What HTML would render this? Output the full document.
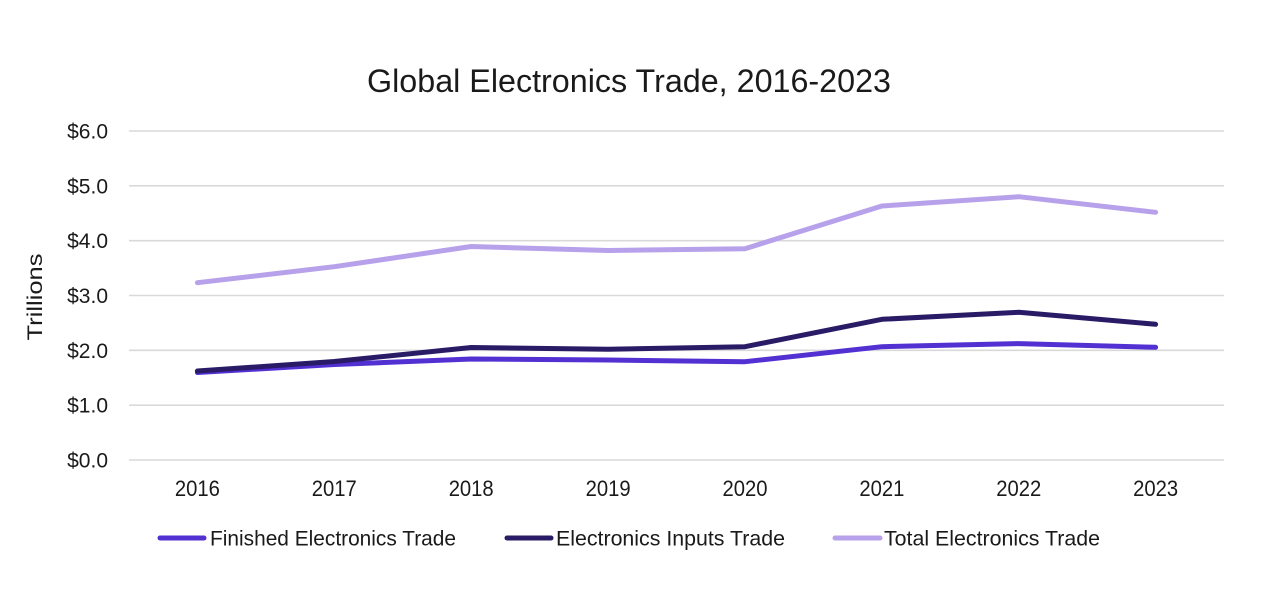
<!DOCTYPE html>
<html>
<head>
<meta charset="utf-8">
<style>
  html, body { margin: 0; padding: 0; background: #ffffff; }
  body { width: 1283px; height: 602px; overflow: hidden; }
  svg { display: block; }
  text { font-family: "Liberation Sans", "DejaVu Sans", sans-serif; fill: #1a1a1a; }
</style>
</head>
<body>
<svg width="1283" height="602" viewBox="0 0 1283 602" xmlns="http://www.w3.org/2000/svg">
  <rect x="0" y="0" width="1283" height="602" fill="#ffffff"/>

  <!-- Title -->
  <text x="367" y="92" font-size="32" textLength="524" lengthAdjust="spacingAndGlyphs">Global Electronics Trade, 2016-2023</text>

  <!-- Gridlines -->
  <g stroke="#d9d9d9" stroke-width="1.6">
    <line x1="129" y1="131" x2="1224" y2="131"/>
    <line x1="129" y1="185.8" x2="1224" y2="185.8"/>
    <line x1="129" y1="240.7" x2="1224" y2="240.7"/>
    <line x1="129" y1="295.5" x2="1224" y2="295.5"/>
    <line x1="129" y1="350.3" x2="1224" y2="350.3"/>
    <line x1="129" y1="405.2" x2="1224" y2="405.2"/>
    <line x1="129" y1="460" x2="1224" y2="460"/>
  </g>

  <!-- Y tick labels -->
  <g font-size="21" text-anchor="end">
    <text x="108" y="138.5">$6.0</text>
    <text x="108" y="193.3">$5.0</text>
    <text x="108" y="248.2">$4.0</text>
    <text x="108" y="303">$3.0</text>
    <text x="108" y="357.8">$2.0</text>
    <text x="108" y="412.7">$1.0</text>
    <text x="108" y="467.5">$0.0</text>
  </g>

  <!-- Y axis title -->
  <text transform="translate(42,297) rotate(-90)" font-size="21" text-anchor="middle" textLength="87" lengthAdjust="spacingAndGlyphs">Trillions</text>

  <!-- X labels -->
  <g font-size="22" text-anchor="middle">
    <text x="197.4" y="496" textLength="45" lengthAdjust="spacingAndGlyphs">2016</text>
    <text x="334.3" y="496" textLength="45" lengthAdjust="spacingAndGlyphs">2017</text>
    <text x="471.2" y="496" textLength="45" lengthAdjust="spacingAndGlyphs">2018</text>
    <text x="608.1" y="496" textLength="45" lengthAdjust="spacingAndGlyphs">2019</text>
    <text x="745" y="496" textLength="45" lengthAdjust="spacingAndGlyphs">2020</text>
    <text x="881.9" y="496" textLength="45" lengthAdjust="spacingAndGlyphs">2021</text>
    <text x="1018.8" y="496" textLength="45" lengthAdjust="spacingAndGlyphs">2022</text>
    <text x="1155.6" y="496" textLength="45" lengthAdjust="spacingAndGlyphs">2023</text>
  </g>

  <!-- Series -->
  <g fill="none" stroke-width="5" stroke-linecap="round" stroke-linejoin="round">
    <polyline stroke="#b7a1ea" points="197.4,282.7 334.3,266.7 471.2,246.5 608.1,250.5 745,248.7 881.9,206 1018.8,196.7 1155.6,212.3"/>
    <polyline stroke="#5230d2" points="197.4,372.5 334.3,364.5 471.2,359 608.1,360 745,361.7 881.9,346.7 1018.8,343.6 1155.6,347.3"/>
    <polyline stroke="#2a1b66" points="197.4,371 334.3,361.5 471.2,347.5 608.1,349.3 745,346.7 881.9,319.3 1018.8,312.3 1155.6,324.3"/>
  </g>

  <!-- Legend -->
  <g stroke-width="5" stroke-linecap="round">
    <line x1="160" y1="538" x2="204" y2="538" stroke="#5230d2"/>
    <line x1="507" y1="538" x2="551" y2="538" stroke="#2a1b66"/>
    <line x1="835" y1="538" x2="880" y2="538" stroke="#b7a1ea"/>
  </g>
  <g font-size="21">
    <text x="210" y="545.5" textLength="246" lengthAdjust="spacingAndGlyphs">Finished Electronics Trade</text>
    <text x="556" y="545.5" textLength="229" lengthAdjust="spacingAndGlyphs">Electronics Inputs Trade</text>
    <text x="884" y="545.5" textLength="216" lengthAdjust="spacingAndGlyphs">Total Electronics Trade</text>
  </g>
</svg>
</body>
</html>
